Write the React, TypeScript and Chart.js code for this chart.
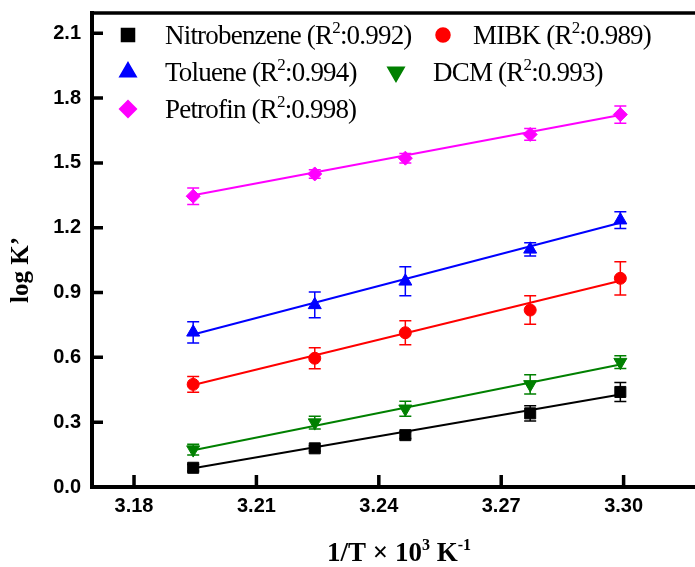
import React, { useEffect, useRef } from "react";
import { Chart, registerables } from "chart.js";
import { drawPoint } from "chart.js/helpers";

Chart.register(...registerables);

// 1/T x 10^3 (K^-1) for the five temperatures
const invT = [3.1945, 3.2243, 3.2465, 3.2771, 3.2992];
const xTickValues = [3.18, 3.21, 3.24, 3.27, 3.3];
const yTickValues = [0, 0.3, 0.6, 0.9, 1.2, 1.5, 1.8, 2.1];

// log K' per solvent, with standard deviations
const nitroLogK = [0.089, 0.179, 0.24, 0.341, 0.44];
const nitroErr = [0.015, 0.012, 0.015, 0.035, 0.044];
const mibkLogK = [0.475, 0.596, 0.714, 0.819, 0.966];
const mibkErr = [0.036, 0.049, 0.056, 0.066, 0.077];
const tolLogK = [0.716, 0.843, 0.952, 1.1, 1.235];
const tolErr = [0.049, 0.06, 0.067, 0.031, 0.039];
const dcmLogK = [0.173, 0.298, 0.362, 0.475, 0.578];
const dcmErr = [0.025, 0.03, 0.035, 0.045, 0.03];
const petroLogK = [1.346, 1.449, 1.522, 1.632, 1.724];
const petroErr = [0.038, 0.02, 0.022, 0.027, 0.04];

// linear fit end values (first and last temperature)
const nitroFit = [0.087, 0.428];
const mibkFit = [0.472, 0.955];
const tolFit = [0.706, 1.223];
const dcmFit = [0.17, 0.567];
const petroFit = [1.35, 1.722];

const solventNames = ["Nitrobenzene", "MIBK", "Toluene", "DCM", "Petrofin"];
const r2Values = ["0.992", "0.989", "0.994", "0.993", "0.998"];

const FONT_SERIF = "'Liberation Serif', 'Times New Roman', serif";
const FONT_SANS = "'Liberation Sans', Arial, sans-serif";

type Series = {
  name: string;
  r2: string;
  values: number[];
  errors: number[];
  fit: number[];
  color: string;
  pointStyle: string;
  radius: number;
  rotation: number;
};

const series: Series[] = [
  { name: solventNames[0], r2: r2Values[0], values: nitroLogK, errors: nitroErr, fit: nitroFit, color: "#000000", pointStyle: "rect", radius: 7.8, rotation: 0 },
  { name: solventNames[1], r2: r2Values[1], values: mibkLogK, errors: mibkErr, fit: mibkFit, color: "#ff0000", pointStyle: "circle", radius: 6, rotation: 0 },
  { name: solventNames[2], r2: r2Values[2], values: tolLogK, errors: tolErr, fit: tolFit, color: "#0000ff", pointStyle: "triangle", radius: 7.5, rotation: 0 },
  { name: solventNames[3], r2: r2Values[3], values: dcmLogK, errors: dcmErr, fit: dcmFit, color: "#008000", pointStyle: "triangle", radius: 7.5, rotation: 180 },
  { name: solventNames[4], r2: r2Values[4], values: petroLogK, errors: petroErr, fit: petroFit, color: "#ff00ff", pointStyle: "rectRot", radius: 7, rotation: 0 },
];

// legend slots: marker centre, text start, text baseline
const legendSlots = [
  { mx: 128, my: 35, tx: 165, ty: 44 },
  { mx: 443, my: 35, tx: 473, ty: 44 },
  { mx: 128, my: 72, tx: 165, ty: 81 },
  { mx: 396, my: 72, tx: 433, ty: 81 },
  { mx: 128, my: 109, tx: 165, ty: 118 },
];

const errorBarPlugin = {
  id: "errorBars",
  beforeDatasetsDraw(chart: any) {
    const { ctx } = chart;
    const yScale = chart.scales.y;
    chart.data.datasets.forEach((ds: any, i: number) => {
      if (!ds.errors) return;
      const meta = chart.getDatasetMeta(i);
      ctx.save();
      ctx.strokeStyle = ds.borderColor;
      ctx.lineWidth = 1.5;
      meta.data.forEach((pt: any, j: number) => {
        const v = ds.data[j].y;
        const e = ds.errors[j];
        const yt = yScale.getPixelForValue(v + e);
        const yb = yScale.getPixelForValue(v - e);
        ctx.beginPath();
        ctx.moveTo(pt.x, yt);
        ctx.lineTo(pt.x, yb);
        ctx.moveTo(pt.x - 6, yt);
        ctx.lineTo(pt.x + 6, yt);
        ctx.moveTo(pt.x - 6, yb);
        ctx.lineTo(pt.x + 6, yb);
        ctx.stroke();
      });
      ctx.restore();
    });
  },
};

function drawSuperText(
  ctx: CanvasRenderingContext2D,
  parts: { t: string; sup?: boolean }[],
  x: number,
  y: number,
  font: (size: number) => string,
  size: number,
  supSize: number,
  supRise: number,
  measureOnly = false
) {
  let cx = x;
  parts.forEach((p) => {
    ctx.font = font(p.sup ? supSize : size);
    if (!measureOnly) ctx.fillText(p.t, cx, p.sup ? y - supRise : y);
    cx += ctx.measureText(p.t).width;
  });
  return cx - x;
}

const framePlugin = {
  id: "frame",
  afterDraw(chart: any) {
    const { ctx, chartArea } = chart;
    const xs = chart.scales.x;
    const ys = chart.scales.y;
    ctx.save();
    ctx.strokeStyle = "#000";
    // top border
    ctx.lineWidth = 3.5;
    ctx.beginPath();
    ctx.moveTo(chartArea.left - 2, chartArea.top);
    ctx.lineTo(chartArea.right, chartArea.top);
    ctx.stroke();
    // inward major ticks
    ctx.lineWidth = 3.5;
    ctx.beginPath();
    xs.ticks.forEach((t: any) => {
      const px = xs.getPixelForValue(t.value);
      ctx.moveTo(px, chartArea.bottom);
      ctx.lineTo(px, chartArea.bottom - 12);
    });
    ys.ticks.forEach((t: any) => {
      const py = ys.getPixelForValue(t.value);
      ctx.moveTo(chartArea.left, py);
      ctx.lineTo(chartArea.left + 11, py);
    });
    ctx.stroke();

    // legend
    ctx.fillStyle = "#000";
    ctx.textBaseline = "alphabetic";
    ctx.textAlign = "left";
    series.forEach((s, i) => {
      const slot = legendSlots[i];
      ctx.save();
      ctx.fillStyle = s.color;
      ctx.strokeStyle = s.color;
      drawPoint(ctx, { pointStyle: s.pointStyle as any, radius: s.radius, rotation: s.rotation, borderWidth: 1 }, slot.mx, slot.my);
      ctx.restore();
      ctx.fillStyle = "#000";
      (ctx as any).letterSpacing = "-0.8px";
      drawSuperText(
        ctx,
        [{ t: s.name + " (R" }, { t: "2", sup: true }, { t: ":" + s.r2 + ")" }],
        slot.tx,
        slot.ty,
        (sz) => `${sz}px ${FONT_SERIF}`,
        27,
        17,
        11
      );
      (ctx as any).letterSpacing = "0px";
    });

    // x-axis title
    const xParts = [
      { t: "1/T \u00d7 10" },
      { t: "3", sup: true },
      { t: " K" },
      { t: "-1", sup: true },
    ];
    const boldSerif = (sz: number) => `bold ${sz}px ${FONT_SERIF}`;
    const w = drawSuperText(ctx, xParts, 0, 0, boldSerif, 27, 16, 11, true);
    drawSuperText(ctx, xParts, 399 - w / 2, 561, boldSerif, 27, 16, 11);

    // y-axis title
    ctx.save();
    ctx.translate(28, 270);
    ctx.rotate(-Math.PI / 2);
    ctx.font = boldSerif(25);
    ctx.textAlign = "center";
    ctx.fillText("log K\u2019", 0, 0);
    ctx.restore();

    ctx.restore();
  },
};

export default function App() {
  const canvasRef = useRef<HTMLCanvasElement | null>(null);

  useEffect(() => {
    document.body.style.margin = "0";
    const canvas = canvasRef.current;
    if (!canvas) return;

    const datasets: any[] = [];
    series.forEach((s) => {
      datasets.push({
        label: s.name + " fit",
        data: [
          { x: invT[0], y: s.fit[0] },
          { x: invT[invT.length - 1], y: s.fit[1] },
        ],
        showLine: true,
        borderColor: s.color,
        borderWidth: 2,
        pointRadius: 0,
        order: 2,
      });
      datasets.push({
        label: s.name,
        data: invT.map((x, j) => ({ x, y: s.values[j] })),
        errors: s.errors,
        showLine: false,
        borderColor: s.color,
        backgroundColor: s.color,
        pointStyle: s.pointStyle,
        pointRadius: s.radius,
        pointRotation: s.rotation,
        pointBorderWidth: 1,
        order: 1,
      });
    });

    const chart = new Chart(canvas, {
      type: "scatter",
      data: { datasets },
      options: {
        animation: false,
        responsive: false,
        devicePixelRatio: 1,
        layout: { autoPadding: false, padding: { top: 13, left: 0, right: 0, bottom: 0 } },
        plugins: {
          legend: { display: false },
          tooltip: { enabled: false },
        },
        scales: {
          x: {
            type: "linear",
            min: 3.1697,
            max: 3.3175,
            afterBuildTicks: (scale: any) => {
              scale.ticks = xTickValues.map((v) => ({ value: v }));
            },
            afterFit: (scale: any) => {
              scale.height = 80;
              scale.paddingLeft = 0;
              scale.paddingRight = 0;
            },
            grid: { display: false, drawTicks: false },
            border: { display: true, width: 4, color: "#000" },
            ticks: {
              padding: 7,
              color: "#000",
              font: { family: FONT_SANS, size: 20, weight: "bold" },
              callback: (v: any) => Number(v).toFixed(2),
            },
          },
          y: {
            type: "linear",
            min: 0,
            max: 2.194,
            afterBuildTicks: (scale: any) => {
              scale.ticks = yTickValues.map((v) => ({ value: v }));
            },
            afterFit: (scale: any) => {
              scale.width = 92;
              scale.paddingTop = 0;
              scale.paddingBottom = 0;
            },
            grid: { display: false, drawTicks: false },
            border: { display: true, width: 4, color: "#000" },
            ticks: {
              padding: 11,
              color: "#000",
              font: { family: FONT_SANS, size: 20, weight: "bold" },
              callback: (v: any) => Number(v).toFixed(1),
            },
          },
        },
      } as any,
      plugins: [errorBarPlugin, framePlugin],
    });

    return () => chart.destroy();
  }, []);

  return (
    <div style={{ width: 695, height: 567, position: "relative", background: "#fff" }}>
      <canvas ref={canvasRef} width={695} height={567} />
    </div>
  );
}
